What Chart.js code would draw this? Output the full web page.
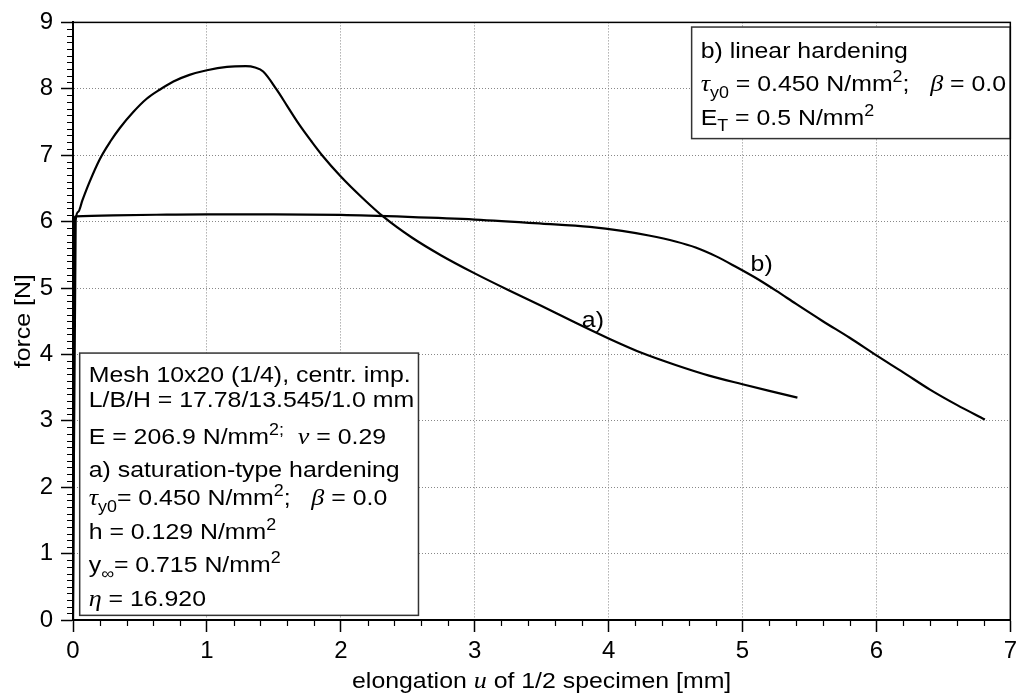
<!DOCTYPE html>
<html>
<head>
<meta charset="utf-8">
<script src="https://cdn.jsdelivr.net/npm/chart.js@4.4.0/dist/chart.umd.min.js"></script>
<style>
html, body { margin: 0; padding: 0; background: #fff; }
</style>
</head>
<body>
<canvas id="forceGraph" width="1022" height="697"></canvas>
<script>
// curve a) saturation-type hardening
let elongA = [0, 0.02, 0.04, 0.07, 0.12, 0.2, 0.28, 0.35, 0.45, 0.55, 0.65, 0.75, 0.87, 1.0, 1.15, 1.29, 1.36, 1.42, 1.52, 1.6, 1.69, 1.78, 1.86, 2.0, 2.16, 2.32, 2.53, 2.75, 3.0, 3.25, 3.5, 3.75, 4.0, 4.25, 4.5, 4.75, 5.0, 5.2, 5.41];
let forceA = [0, 6.02, 6.15, 6.32, 6.58, 6.94, 7.21, 7.41, 7.65, 7.85, 7.99, 8.11, 8.21, 8.28, 8.33, 8.34, 8.32, 8.26, 7.99, 7.74, 7.46, 7.21, 7.0, 6.68, 6.36, 6.07, 5.76, 5.49, 5.22, 4.97, 4.73, 4.48, 4.24, 4.02, 3.84, 3.68, 3.55, 3.45, 3.35];
// curve b) linear hardening
let elongB = [0, 0.01, 0.02, 0.3, 0.7, 1.0, 1.5, 2.0, 2.5, 3.0, 3.5, 3.86, 4.1, 4.3, 4.5, 4.65, 4.8, 4.95, 5.1, 5.25, 5.4, 5.6, 5.8, 6.0, 6.2, 6.4, 6.6, 6.81];
let forceB = [0, 6.04, 6.08, 6.095, 6.105, 6.11, 6.11, 6.1, 6.07, 6.03, 5.97, 5.92, 5.86, 5.79, 5.7, 5.61, 5.48, 5.32, 5.15, 4.96, 4.76, 4.5, 4.25, 3.985, 3.73, 3.47, 3.24, 3.02];

let xMin = 0, xMax = 7;
let yMin = 0, yMax = 9;

const SANS = '"Liberation Sans", Arial, sans-serif';
const SERIF = '"Liberation Serif", "DejaVu Serif", serif';
const STRETCH = 1.13;

function toPoints(xs, ys) {
  return xs.map((x, i) => ({ x: x, y: ys[i] }));
}

// one line of text with sub/superscripts and italic greek letters
function richLine(ctx, x, y, parts, size) {
  ctx.save();
  ctx.translate(x, y);
  ctx.scale(STRETCH, 1);
  ctx.fillStyle = '#000';
  ctx.textBaseline = 'alphabetic';
  ctx.textAlign = 'left';
  let cx = 0;
  parts.forEach(p => {
    let t = typeof p === 'string' ? p : p[0];
    let s = typeof p === 'string' ? 'n' : p[1];
    let fs = size, dy = 0, fam = SANS, st = '';
    if (s === 'sub') { fs = size * 0.72; dy = size * 0.3; }
    if (s === 'sup') { fs = size * 0.72; dy = -size * 0.42; }
    if (s === 'i') { fam = SERIF; st = 'italic '; fs = size * 1.05; }
    ctx.font = st + fs + 'px ' + fam;
    ctx.fillText(t, cx, dy);
    cx += ctx.measureText(t).width;
  });
  ctx.restore();
}

function richWidth(ctx, parts, size) {
  let w = 0;
  ctx.save();
  parts.forEach(p => {
    let t = typeof p === 'string' ? p : p[0];
    let s = typeof p === 'string' ? 'n' : p[1];
    let fs = size, fam = SANS, st = '';
    if (s === 'sub' || s === 'sup') fs = size * 0.72;
    if (s === 'i') { fam = SERIF; st = 'italic '; fs = size * 1.05; }
    ctx.font = st + fs + 'px ' + fam;
    w += ctx.measureText(t).width;
  });
  ctx.restore();
  return w * STRETCH;
}

let boxA = [
  ['Mesh 10x20 (1/4), centr. imp.'],
  ['L/B/H = 17.78/13.545/1.0 mm'],
  ['E = 206.9 N/mm', ['2', 'sup'], [';', 'sup'], '  ', ['\u03BD', 'i'], ' = 0.29'],
  ['a) saturation-type hardening'],
  [['\u03C4', 'i'], ['y0', 'sub'], '= 0.450 N/mm', ['2', 'sup'], ';   ', ['\u03B2', 'i'], ' = 0.0'],
  ['h = 0.129 N/mm', ['2', 'sup']],
  ['y', ['\u221E', 'sub'], '= 0.715 N/mm', ['2', 'sup']],
  [['\u03B7', 'i'], ' = 16.920']
];
let boxAOffsets = [28.6, 54.3, 91, 124.3, 152, 186, 219.3, 252.6];

let boxB = [
  ['b) linear hardening'],
  [['\u03C4', 'i'], ['y0', 'sub'], ' = 0.450 N/mm', ['2', 'sup'], ';   ', ['\u03B2', 'i'], ' = 0.0'],
  ['E', ['T', 'sub'], ' = 0.5 N/mm', ['2', 'sup']]
];
let boxBOffsets = [31, 64.3, 97.7];

const decorations = {
  id: 'decorations',
  afterDatasetsDraw(chart) {
    const ctx = chart.ctx;
    const xs = chart.scales.x, ys = chart.scales.y;
    const area = chart.chartArea;

    // curve labels
    richLine(ctx, xs.getPixelForValue(3.80), ys.getPixelForValue(4.42), ['a)'], 22);
    richLine(ctx, xs.getPixelForValue(5.06), ys.getPixelForValue(5.25), ['b)'], 22);

    // text boxes
    const drawBox = (x0, y0, x1, y1, lines, offs) => {
      let l = xs.getPixelForValue(x0), r = xs.getPixelForValue(x1);
      let t = ys.getPixelForValue(y1), b = ys.getPixelForValue(y0);
      ctx.save();
      ctx.fillStyle = '#fff';
      ctx.fillRect(l, t, r - l, b - t);
      ctx.strokeStyle = '#333';
      ctx.lineWidth = 1.5;
      ctx.strokeRect(l, t, r - l, b - t);
      ctx.beginPath();
      ctx.rect(l, t, r - l, b - t);
      ctx.clip();
      lines.forEach((ln, i) => richLine(ctx, l + 9, t + offs[i], ln, 22));
      ctx.restore();
    };
    drawBox(0.05, 0.07, 2.58, 4.02, boxA, boxAOffsets);
    drawBox(4.62, 7.25, 7.0, 8.93, boxB, boxBOffsets);

    // frame
    ctx.save();
    ctx.strokeStyle = '#000';
    ctx.lineWidth = 1.5;
    ctx.strokeRect(area.left, area.top, area.right - area.left, area.bottom - area.top);
    ctx.restore();

    // minor ticks
    ctx.save();
    ctx.strokeStyle = '#000';
    ctx.lineWidth = 1.2;
    ctx.beginPath();
    for (let k = 1; k < 90; k++) {
      if (k % 10 === 0) continue;
      let py = Math.round(ys.getPixelForValue(k / 10)) + 0.5;
      ctx.moveTo(area.left - 6, py);
      ctx.lineTo(area.left, py);
    }
    for (let k = 1; k < 35; k++) {
      if (k % 5 === 0) continue;
      let px = Math.round(xs.getPixelForValue(k / 5)) + 0.5;
      ctx.moveTo(px, area.bottom);
      ctx.lineTo(px, area.bottom + 6);
    }
    ctx.stroke();
    ctx.restore();

    // axis titles
    const xTitle = ['elongation ', ['u', 'i'], ' of 1/2 specimen [mm]'];
    let w = richWidth(ctx, xTitle, 22);
    richLine(ctx, (area.left + area.right) / 2 - w / 2, 688, xTitle, 22);

    ctx.save();
    ctx.translate(30, (area.top + area.bottom) / 2);
    ctx.rotate(-Math.PI / 2);
    ctx.scale(STRETCH, 1);
    ctx.font = '22px ' + SANS;
    ctx.fillStyle = '#000';
    ctx.textAlign = 'center';
    ctx.textBaseline = 'alphabetic';
    ctx.fillText('force [N]', 0, 0);
    ctx.restore();
  }
};

let myGraph = document.getElementById('forceGraph').getContext('2d');

let graph = new Chart(myGraph, {
  type: 'scatter',
  data: {
    datasets: [{
      label: 'a)',
      data: toPoints(elongA, forceA),
      showLine: true,
      borderColor: '#000',
      borderWidth: 2.2,
      pointRadius: 0,
      cubicInterpolationMode: 'monotone'
    }, {
      label: 'b)',
      data: toPoints(elongB, forceB),
      showLine: true,
      borderColor: '#000',
      borderWidth: 2.2,
      pointRadius: 0,
      cubicInterpolationMode: 'monotone'
    }]
  },
  options: {
    responsive: false,
    animation: false,
    layout: { padding: { left: 0, right: 9, top: 19, bottom: 0 } },
    plugins: {
      legend: { display: false },
      tooltip: { enabled: false }
    },
    scales: {
      x: {
        type: 'linear',
        min: xMin,
        max: xMax,
        afterFit: (scale) => { scale.height = 77; },
        ticks: {
          stepSize: 1,
          color: '#000',
          padding: 5,
          maxRotation: 0,
          font: { family: SANS, size: 24 }
        },
        grid: {
          color: '#888',
          lineWidth: 1,
          tickColor: '#000',
          tickLength: 12,
          tickWidth: 1.5,
          tickBorderDash: []
        },
        border: { display: true, color: '#000', width: 2, dash: [1, 2] }
      },
      y: {
        type: 'linear',
        min: yMin,
        max: yMax,
        afterFit: (scale) => { scale.width = 73; },
        ticks: {
          stepSize: 1,
          color: '#000',
          padding: 8,
          font: { family: SANS, size: 24 }
        },
        grid: {
          color: '#888',
          lineWidth: 1,
          tickColor: '#000',
          tickLength: 12,
          tickWidth: 1.5,
          tickBorderDash: []
        },
        border: { display: true, color: '#000', width: 2, dash: [1, 2] }
      }
    }
  },
  plugins: [decorations]
});
</script>
</body>
</html>
